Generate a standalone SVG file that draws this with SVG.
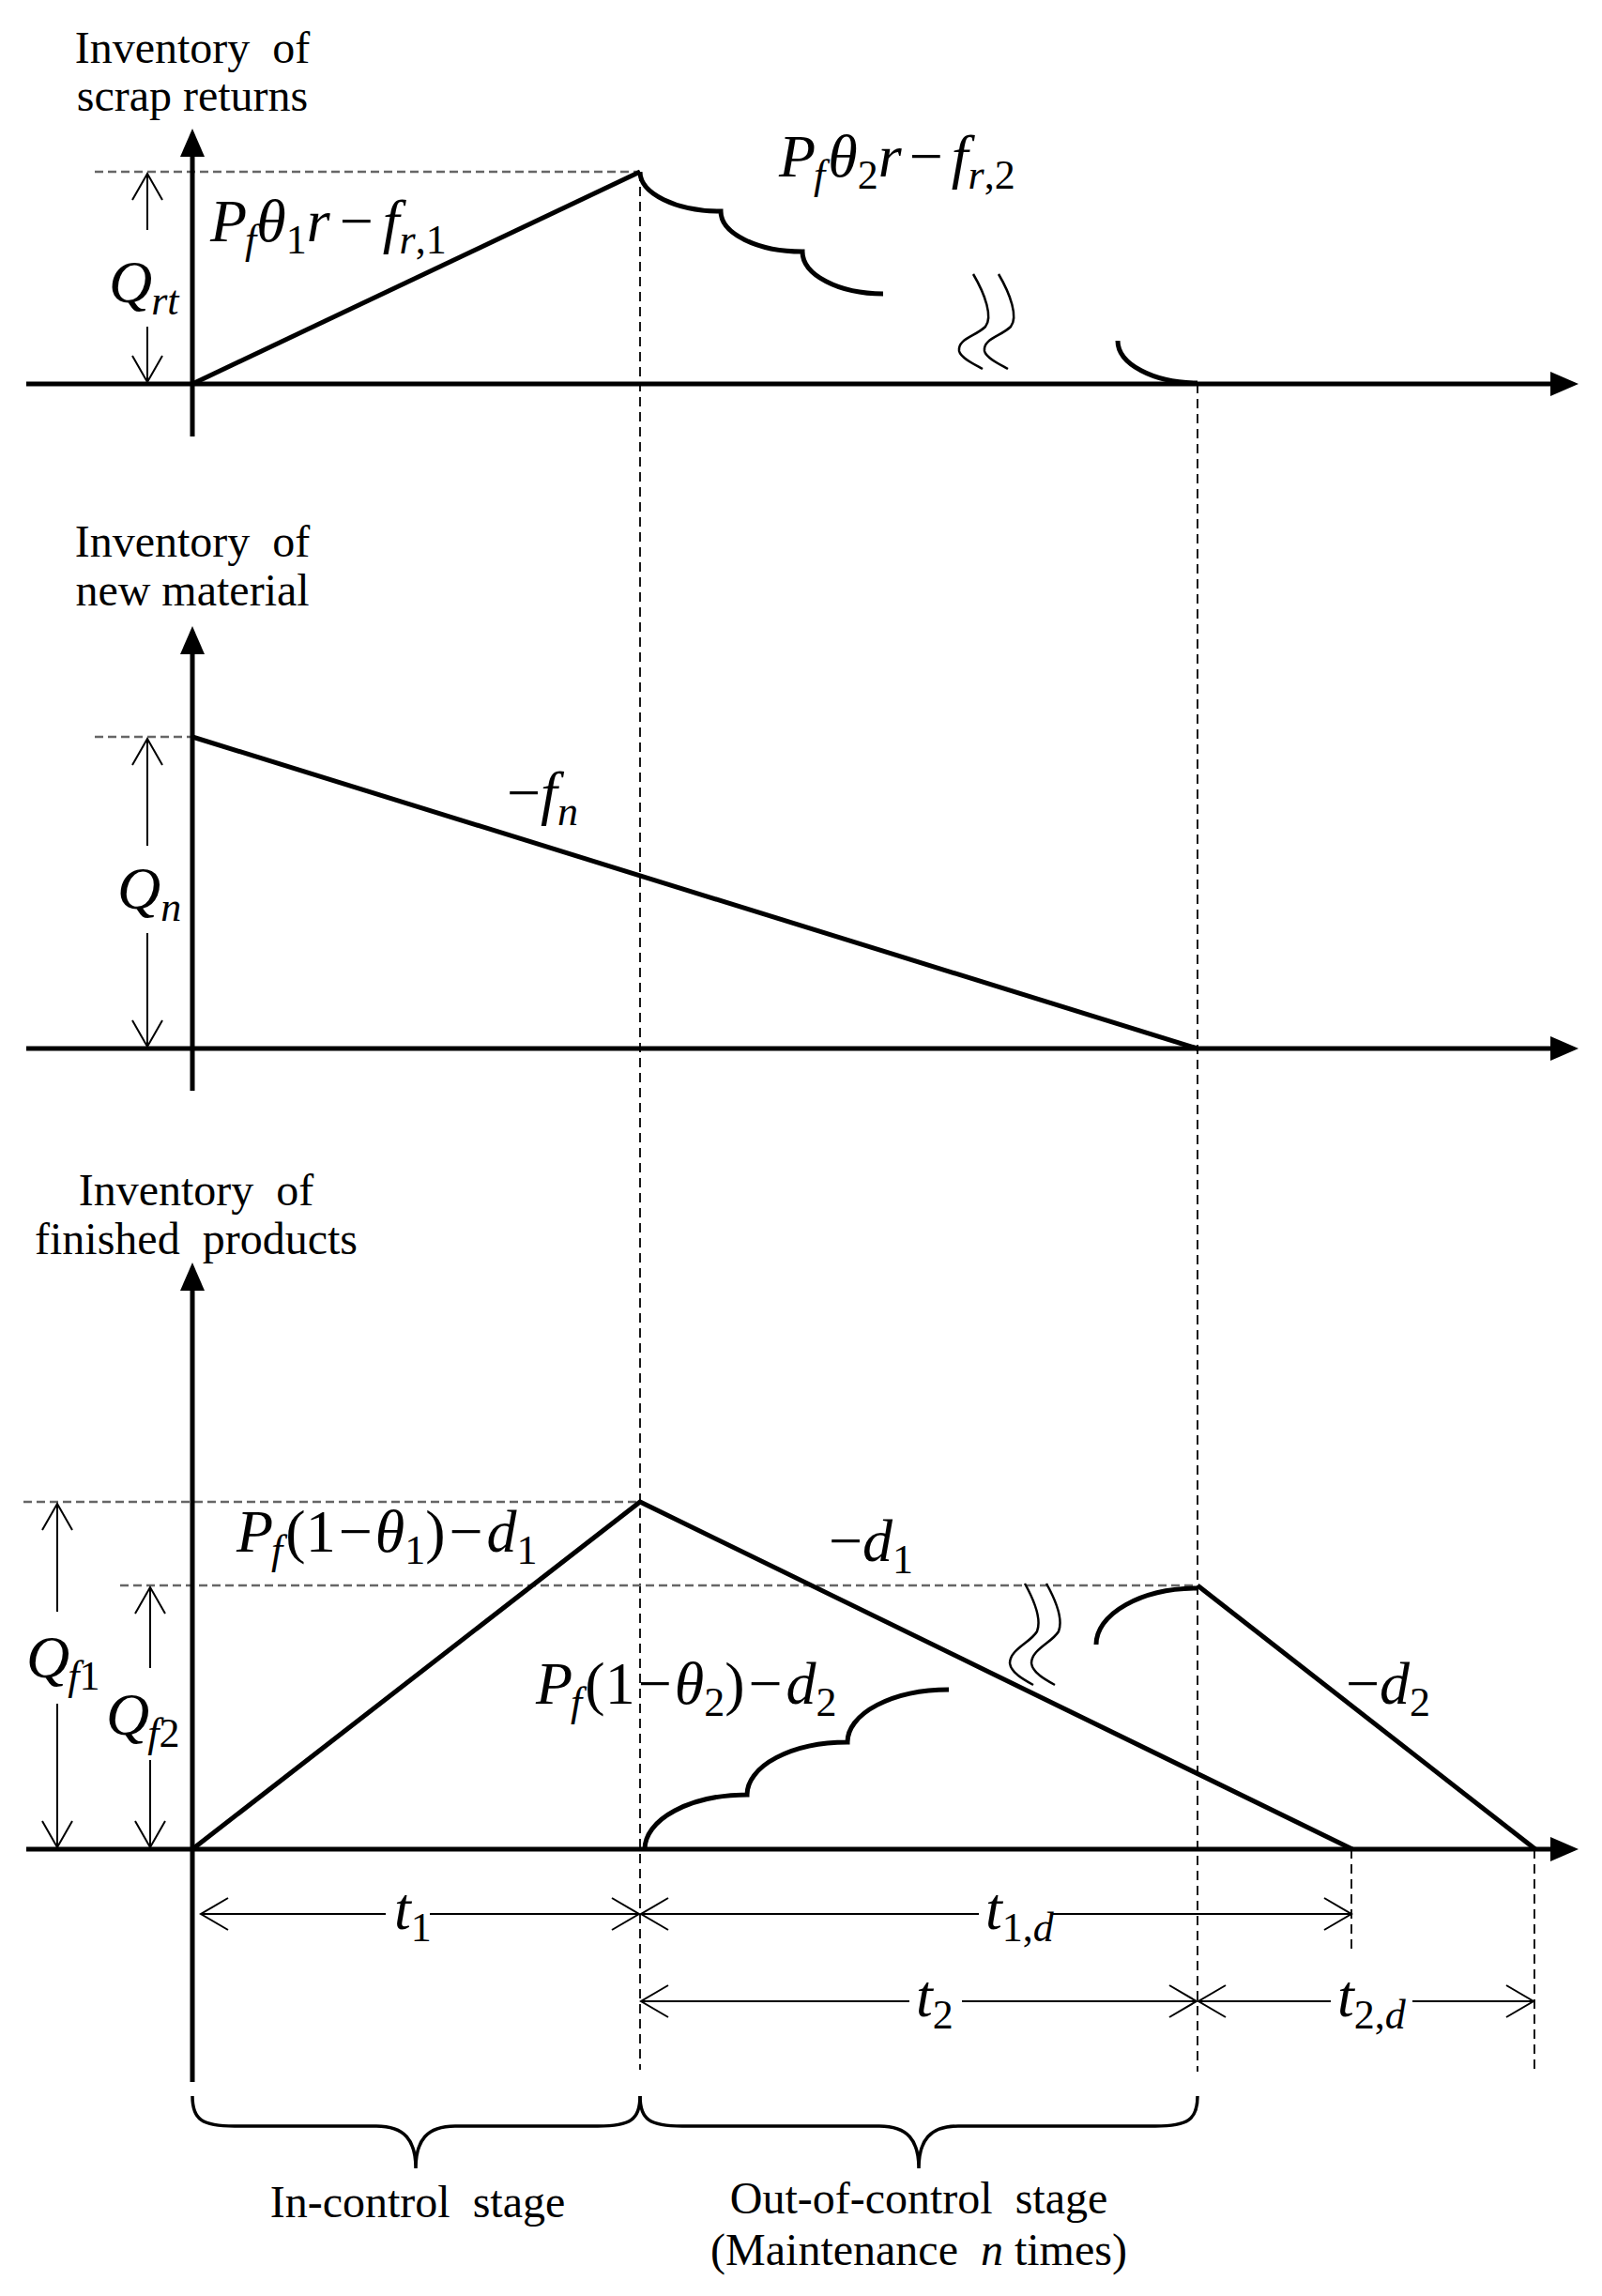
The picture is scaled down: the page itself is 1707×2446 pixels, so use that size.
<svg xmlns="http://www.w3.org/2000/svg" width="1707" height="2446" viewBox="0 0 1707 2446">
<style>
.t{font-family:"Liberation Serif","Times New Roman",serif;font-size:48px;fill:#000}
.m{font-family:"Liberation Serif","Times New Roman",serif;font-size:64px;font-style:italic;fill:#000}
.r{font-style:normal}
.s{font-size:44px}
.ax{stroke:#000;stroke-width:5;fill:none}
.cv{stroke:#000;stroke-width:5;fill:none;stroke-linejoin:miter}
.dv{stroke:#000;stroke-width:1.8;stroke-dasharray:10 6;fill:none}
.dh{stroke:#666;stroke-width:2.5;stroke-dasharray:9 5;fill:none}
.th{stroke:#000;stroke-width:2;fill:none}
.bk{stroke:#000;stroke-width:2.5;fill:none}
.br{stroke:#000;stroke-width:3.5;fill:none}
</style>
<defs>
<marker id="v" markerUnits="userSpaceOnUse" viewBox="-32 -20 36 40" markerWidth="36" markerHeight="40" refX="0" refY="0" orient="auto" overflow="visible">
<path d="M-29,-17 L0,0 L-29,17" fill="none" stroke="#000" stroke-width="2"/>
</marker>
<marker id="vq" markerUnits="userSpaceOnUse" viewBox="-32 -20 36 40" markerWidth="36" markerHeight="40" refX="0" refY="0" orient="auto" overflow="visible">
<path d="M-28,-16 L0,0 L-28,16" fill="none" stroke="#000" stroke-width="2"/>
</marker>
</defs>
<rect width="1707" height="2446" fill="#fff"/>

<g id="guides">
<line class="dv" x1="682" y1="183" x2="682" y2="2205"/>
<line class="dv" x1="1276" y1="409" x2="1276" y2="2207"/>
<line class="dv" x1="1440" y1="1970" x2="1440" y2="2077"/>
<line class="dv" x1="1635" y1="1970" x2="1635" y2="2210"/>
<line class="dh" x1="101" y1="183" x2="682" y2="183"/>
<line class="dh" x1="101" y1="785" x2="205" y2="785"/>
<line class="dh" x1="25" y1="1600" x2="682" y2="1600"/>
<line class="dh" x1="128" y1="1689" x2="1276" y2="1689"/>
</g>

<g id="panel-scrap">
<text class="t" x="205" y="67" text-anchor="middle" xml:space="preserve">Inventory  of</text>
<text class="t" x="205" y="118" text-anchor="middle">scrap returns</text>
<line class="ax" x1="205" y1="160" x2="205" y2="465"/>
<polygon points="205,137 192,167 218,167" fill="#000"/>
<line class="ax" x1="28" y1="409" x2="1660" y2="409"/>
<polygon points="1682,409 1652,396 1652,422" fill="#000"/>
<path class="cv" d="M205,409 L682,183"/>
<path class="cv" d="M682,183 A86,42 0 0 0 768,225 A87,43 0 0 0 855,268 A86,45 0 0 0 941,313"/>
<path class="cv" d="M1191,363 A85,45 0 0 0 1276,408"/>
<path class="bk" d="M1037,292 C1050,314 1058,338 1050,348 C1040,358 1020,361 1022,374 C1024,382 1040,389 1047,393"/>
<path class="bk" d="M1064,292 C1077,314 1085,338 1077,348 C1067,358 1047,361 1049,374 C1051,382 1067,389 1074,393"/>
<line class="th" x1="157" y1="245" x2="157" y2="185" marker-end="url(#vq)"/>
<line class="th" x1="157" y1="348" x2="157" y2="407" marker-end="url(#vq)"/>
<text class="m" x="116" y="322">Q<tspan class="s" dy="13" dx="-1">rt</tspan></text>
<text class="m" x="224" y="257">P<tspan class="s" dy="13" dx="-2">f</tspan><tspan dy="-13">θ</tspan><tspan class="s r" dy="13">1</tspan><tspan dy="-13">r</tspan><tspan class="r" dx="10">−</tspan><tspan dx="10">f</tspan><tspan class="s" dy="13">r</tspan><tspan class="s r">,1</tspan></text>
<text class="m" x="830" y="188">P<tspan class="s" dy="13" dx="-2">f</tspan><tspan dy="-13" dx="3">θ</tspan><tspan class="s r" dy="13">2</tspan><tspan dy="-13">r</tspan><tspan class="r" dx="8">−</tspan><tspan dx="9">f</tspan><tspan class="s" dy="13">r</tspan><tspan class="s r">,2</tspan></text>
</g>

<g id="panel-new">
<text class="t" x="205" y="593" text-anchor="middle" xml:space="preserve">Inventory  of</text>
<text class="t" x="205" y="645" text-anchor="middle">new material</text>
<line class="ax" x1="205" y1="690" x2="205" y2="1162"/>
<polygon points="205,667 192,697 218,697" fill="#000"/>
<line class="ax" x1="28" y1="1117" x2="1660" y2="1117"/>
<polygon points="1682,1117 1652,1104 1652,1130" fill="#000"/>
<path class="cv" d="M205,785 L1276,1117"/>
<line class="th" x1="157" y1="901" x2="157" y2="787" marker-end="url(#vq)"/>
<line class="th" x1="157" y1="994" x2="157" y2="1115" marker-end="url(#vq)"/>
<text class="m" x="125" y="968">Q<tspan class="s" dy="13">n</tspan></text>
<text class="m" x="540" y="866"><tspan class="r">−</tspan>f<tspan class="s" dy="13">n</tspan></text>
</g>

<g id="panel-finished">
<text class="t" x="209" y="1284" text-anchor="middle" xml:space="preserve">Inventory  of</text>
<text class="t" x="209" y="1336" text-anchor="middle" xml:space="preserve">finished  products</text>
<line class="ax" x1="205" y1="1368" x2="205" y2="2218"/>
<polygon points="205,1345 192,1375 218,1375" fill="#000"/>
<line class="ax" x1="28" y1="1970" x2="1660" y2="1970"/>
<polygon points="1682,1970 1652,1957 1652,1983" fill="#000"/>
<path class="cv" d="M205,1970 L682,1600 L1441,1970"/>
<path class="cv" d="M1276,1689 L1636,1970"/>
<path class="cv" d="M687,1970 A109,58 0 0 1 796,1912 A107,56 0 0 1 903,1856 A108,56 0 0 1 1011,1800"/>
<path class="cv" d="M1168,1752 A108,60 0 0 1 1276,1692"/>
<path class="bk" d="M1092,1687 C1102,1705 1110,1725 1105,1738 C1098,1750 1076,1757 1076,1772 C1077,1782 1092,1790 1101,1795"/>
<path class="bk" d="M1115,1687 C1125,1705 1133,1725 1128,1738 C1121,1750 1099,1757 1099,1772 C1100,1782 1115,1790 1124,1795"/>
<line class="th" x1="61" y1="1717" x2="61" y2="1602" marker-end="url(#vq)"/>
<line class="th" x1="61" y1="1815" x2="61" y2="1968" marker-end="url(#vq)"/>
<line class="th" x1="160" y1="1777" x2="160" y2="1691" marker-end="url(#vq)"/>
<line class="th" x1="160" y1="1875" x2="160" y2="1968" marker-end="url(#vq)"/>
<text class="m" x="28" y="1787">Q<tspan class="s" dy="13" dx="-2">f</tspan><tspan class="s r">1</tspan></text>
<text class="m" x="113" y="1848">Q<tspan class="s" dy="13" dx="-2">f</tspan><tspan class="s r">2</tspan></text>
<text class="m" x="252" y="1653">P<tspan class="s" dy="13" dx="-2">f</tspan><tspan class="r" dy="-13" dx="3">(1</tspan><tspan class="r" dx="3">−</tspan><tspan dx="3">θ</tspan><tspan class="s r" dy="13">1</tspan><tspan class="r" dy="-13">)</tspan><tspan class="r" dx="4">−</tspan><tspan dx="4">d</tspan><tspan class="s r" dy="13">1</tspan></text>
<text class="m" x="571" y="1815">P<tspan class="s" dy="13" dx="-2">f</tspan><tspan class="r" dy="-13" dx="3">(1</tspan><tspan class="r" dx="3">−</tspan><tspan dx="3">θ</tspan><tspan class="s r" dy="13">2</tspan><tspan class="r" dy="-13">)</tspan><tspan class="r" dx="4">−</tspan><tspan dx="4">d</tspan><tspan class="s r" dy="13">2</tspan></text>
<text class="m" x="883" y="1663"><tspan class="r">−</tspan>d<tspan class="s r" dy="13">1</tspan></text>
<text class="m" x="1434" y="1815"><tspan class="r">−</tspan>d<tspan class="s r" dy="13">2</tspan></text>
</g>

<g id="connectors">
<line class="th" x1="411" y1="2039" x2="214" y2="2039" marker-end="url(#v)"/>
<line class="th" x1="458" y1="2039" x2="681" y2="2039" marker-end="url(#v)"/>
<line class="th" x1="1043" y1="2039" x2="683" y2="2039" marker-end="url(#v)"/>
<line class="th" x1="1122" y1="2039" x2="1440" y2="2039" marker-end="url(#v)"/>
<line class="th" x1="969" y1="2132" x2="683" y2="2132" marker-end="url(#v)"/>
<line class="th" x1="1025" y1="2132" x2="1275" y2="2132" marker-end="url(#v)"/>
<line class="th" x1="1418" y1="2132" x2="1277" y2="2132" marker-end="url(#v)"/>
<line class="th" x1="1505" y1="2132" x2="1634" y2="2132" marker-end="url(#v)"/>
</g>

<g id="time-labels">
<text class="m" x="420" y="2055">t<tspan class="s r" dy="13">1</tspan></text>
<text class="m" x="1050" y="2055">t<tspan class="s r" dy="13">1,</tspan><tspan class="s">d</tspan></text>
<text class="m" x="976" y="2148">t<tspan class="s r" dy="13">2</tspan></text>
<text class="m" x="1425" y="2148">t<tspan class="s r" dy="13">2,</tspan><tspan class="s">d</tspan></text>
</g>

<g id="stage-in-control">
<path class="br" d="M205,2233 C205,2258 215,2265 250,2265 L401,2265 C431,2265 443,2280 443,2310 C443,2280 455,2265 485,2265 L637,2265 C672,2265 682,2258 682,2233"/>
<text class="t" x="445" y="2362" text-anchor="middle" xml:space="preserve">In-control  stage</text>
</g>
<g id="stage-out-of-control">
<path class="br" d="M682,2233 C682,2258 692,2265 727,2265 L937,2265 C967,2265 979,2280 979,2310 C979,2280 991,2265 1021,2265 L1231,2265 C1266,2265 1276,2258 1276,2233"/>
<text class="t" x="979" y="2358" text-anchor="middle" xml:space="preserve">Out-of-control  stage</text>
<text class="t" x="979" y="2413" text-anchor="middle" xml:space="preserve">(Maintenance  <tspan font-style="italic">n</tspan> times)</text>
</g>
</svg>
